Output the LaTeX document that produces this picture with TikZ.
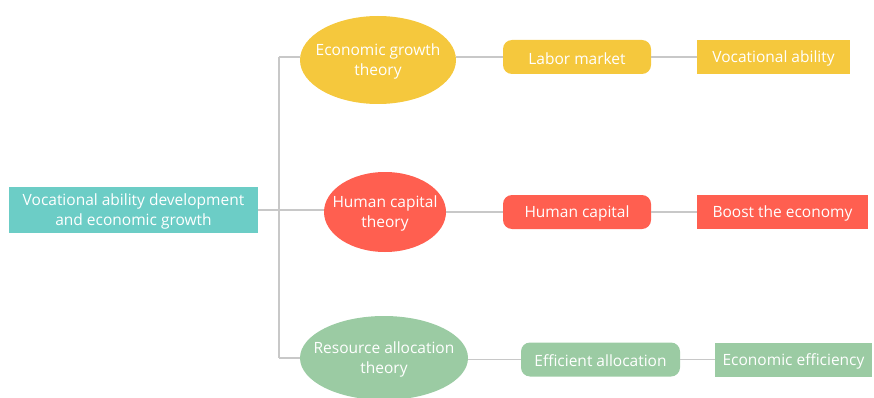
\documentclass[tikz,border=0pt]{standalone}
\usepackage{fontspec}
\setmainfont{Open Sans}
\usetikzlibrary{shapes.geometric}
\definecolor{cteal}{HTML}{6CCDC6}
\definecolor{cyel}{HTML}{F5C83D}
\definecolor{cred}{HTML}{FF5F50}
\definecolor{cgrn}{HTML}{9BCBA3}
\definecolor{cline}{HTML}{C8C8C8}
\begin{document}
\begin{tikzpicture}[x=1pt,y=-1pt,
  txt/.style={text=white,font=\fontsize{15.5}{19.5}\selectfont,align=center,inner sep=0pt},
  lbl/.style={txt,yshift=-1.5pt},
  rootbox/.style={rectangle,fill=cteal,minimum width=249pt,minimum height=46pt},
  theory/.style={ellipse,inner sep=0pt},
  midbox/.style={rectangle,rounded corners=9pt,minimum width=148pt,minimum height=34pt},
  endbox/.style={rectangle,minimum height=34pt},
  conn/.style={draw=cline,line width=1.2pt}]
\useasboundingbox (0,0) rectangle (874,398);
\coordinate (t1) at (279,57);
\coordinate (t3) at (279,358);
\node[rootbox] (root) at (133.5,210) {};
\node[lbl] (rootT) at (root) {Vocational ability development\\and economic growth};
\node[theory,fill=cyel,minimum width=156pt,minimum height=88pt] (e1) at (378,60) {};
\node[lbl] (e1T) at (e1) {Economic growth\\theory};
\node[theory,fill=cred,minimum width=122pt,minimum height=80pt] (e2) at (385,212) {};
\node[lbl] (e2T) at (e2) {Human capital\\theory};
\node[theory,fill=cgrn,minimum width=168pt,minimum height=84pt] (e3) at (384,358) {};
\node[lbl] (e3T) at (e3) {Resource allocation\\theory};
\node[midbox,fill=cyel] (m1) at (577,57) {};
\node[lbl] (m1T) at (m1) {Labor market};
\node[midbox,fill=cred] (m2) at (577,212) {};
\node[lbl] (m2T) at (m2) {Human capital};
\node[midbox,fill=cgrn,minimum width=159pt] (m3) at (600.5,359.5) {};
\node[lbl] (m3T) at (m3) {Efficient allocation};
\node[endbox,fill=cyel,minimum width=153pt] (r1) at (773.5,57) {};
\node[lbl] (r1T) at (r1) {Vocational ability};
\node[endbox,fill=cred,minimum width=171pt] (r2) at (782.5,212) {};
\node[lbl] (r2T) at (r2) {Boost the economy};
\node[endbox,fill=cgrn,minimum width=157pt] (r3) at (793.5,359.5) {};
\node[lbl] (r3T) at (r3) {Economic efficiency};
\draw[conn] (t1) -- (t3);
\draw[conn] (root.east) -- (root.east -| e2.west);
\draw[conn] (t1) -- (t1 -| e1.west);
\draw[conn] (t3) -- (t3 -| e3.west);
\draw[conn] (e1.east |- m1) -- (m1.west);
\draw[conn] (m1.east) -- (r1.west);
\draw[conn] (e2.east |- m2) -- (m2.west);
\draw[conn] (m2.east) -- (r2.west);
\draw[conn] (e3.east |- m3) -- (m3.west);
\draw[conn] (m3.east) -- (r3.west);
\end{tikzpicture}
\end{document}
